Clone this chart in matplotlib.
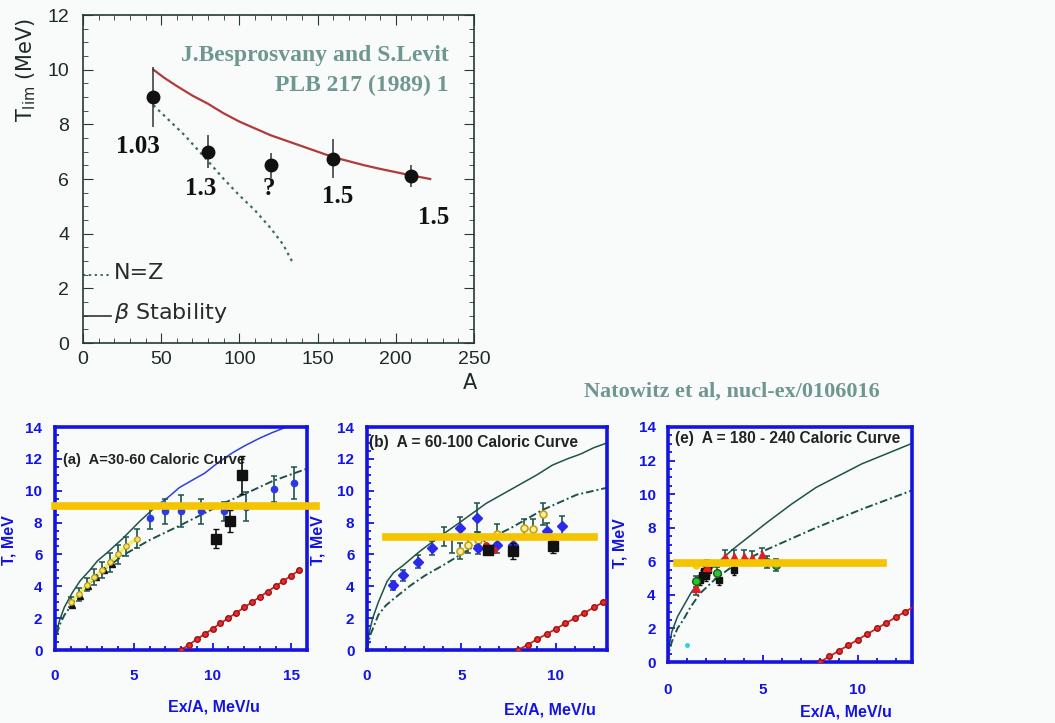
import matplotlib.pyplot as plt
from matplotlib.ticker import MultipleLocator

W, H = 1055, 723

# ---- top panel: limiting temperature vs A ----
A_pts = [45, 80, 120, 160, 210]
T_pts = [9.0, 7.0, 6.5, 6.75, 6.1]
T_err = [1.1, 0.6, 0.45, 0.7, 0.4]
pt_labels = ["1.03", "1.3", "?", "1.5", "1.5"]

A_beta = [45, 52, 60, 70, 80, 90, 100, 110, 120, 130, 140, 150, 160, 170, 180, 190, 200, 210, 222]
T_beta = [10.0, 9.7, 9.4, 9.05, 8.75, 8.4, 8.1, 7.85, 7.6, 7.4, 7.2, 7.0, 6.8, 6.65, 6.5, 6.37, 6.25, 6.13, 6.0]
A_nz = [45, 55, 65, 80, 90, 100, 110, 120, 128, 134]
T_nz = [8.7, 8.15, 7.6, 6.65, 6.0, 5.4, 4.85, 4.2, 3.6, 2.95]

# ---- panel (a) A=30-60 ----
a_fg_x = [0, 0.05, 0.15, 0.3, 0.6, 1.1, 1.6, 2.2, 2.7, 3.3, 4.3, 5.4, 6.4]
a_fg_y = [0, 0.8, 1.35, 1.9, 2.7, 3.6, 4.35, 5.0, 5.6, 6.1, 7.0, 8.1, 9.0]
a_fg2_x = [6.4, 7.2, 7.9, 8.7, 9.5, 10.4, 11.3, 12.1, 13.0, 13.8, 14.7]
a_fg2_y = [9.0, 9.6, 10.2, 10.65, 11.1, 11.8, 12.4, 12.85, 13.3, 13.65, 14.0]
a_dash_x = [0, 0.05, 0.15, 0.3, 0.6, 1.1, 1.6, 2.2, 2.7, 3.3, 4.5, 6.0, 7.9, 9.5, 10.9, 12.5, 13.8, 15.2, 15.9]
a_dash_y = [0, 0.65, 1.1, 1.6, 2.2, 2.9, 3.6, 4.2, 4.7, 5.2, 6.05, 6.9, 7.8, 8.6, 9.3, 10.0, 10.6, 11.1, 11.35]
a_yel_x = [1.0, 1.5, 2.0, 2.5, 3.0, 3.5, 4.0, 4.5, 5.2]
a_yel_y = [3.0, 3.5, 4.1, 4.6, 5.0, 5.5, 6.0, 6.5, 7.0]
a_yel_e = [0.3, 0.4, 0.4, 0.5, 0.5, 0.6, 0.6, 0.6, 0.6]
a_tri_x = [1.1, 1.6, 2.1, 2.6, 3.1, 3.6]
a_tri_y = [2.8, 3.4, 4.0, 4.6, 5.0, 5.4]
a_blue_x = [6.0, 7.0, 8.0, 9.3, 10.7, 12.1, 13.9, 15.2]
a_blue_y = [8.3, 8.7, 8.7, 8.7, 8.7, 9.0, 10.1, 10.5]
a_blue_e = [0.7, 0.8, 1.0, 0.8, 0.6, 0.9, 0.8, 1.0]
a_sq_x = [10.2, 11.1, 11.85]
a_sq_y = [7.0, 8.1, 11.0]
a_sq_e = [0.6, 0.7, 1.2]
a_red_x = [8.0, 8.5, 9.0, 9.5, 10.0, 10.5, 11.0, 11.5, 12.0, 12.5, 13.0, 13.5, 14.0, 14.5, 15.0, 15.5]
a_red_y = [0, 0.33, 0.67, 1.0, 1.33, 1.67, 2.0, 2.33, 2.67, 3.0, 3.33, 3.67, 4.0, 4.33, 4.67, 5.0]
a_plateau = 9.05

# ---- panel (b) A=60-100 ----
b_fg_x = [0, 0.1, 0.3, 0.6, 1.06, 1.4, 1.9, 2.8, 3.7, 4.9, 6.3, 7.2, 8.1, 9.0, 9.8, 10.6, 11.3, 12.0, 12.7]
b_fg_y = [0, 1.0, 2.0, 3.0, 4.3, 4.85, 5.3, 6.2, 7.0, 8.0, 9.2, 9.8, 10.4, 11.0, 11.6, 12.0, 12.3, 12.7, 13.0]
b_dash_x = [0, 0.16, 0.6, 1.0, 1.4, 2.3, 3.1, 4.0, 5.8, 7.6, 9.3, 11.1, 12.75]
b_dash_y = [0, 0.9, 2.2, 2.8, 3.2, 4.05, 4.7, 5.3, 6.6, 7.65, 8.8, 9.75, 10.2]
b_blue_x = [1.4, 1.9, 2.7, 3.45, 4.9, 5.8, 5.9, 6.9, 7.7, 9.5, 10.3]
b_blue_y = [4.05, 4.7, 5.55, 6.4, 7.65, 8.3, 6.4, 6.6, 6.6, 7.5, 7.8]
b_blue_e = [0.3, 0.35, 0.4, 0.45, 0.7, 0.9, 0.4, 0.5, 0.5, 0.5, 0.6]
b_yel_x = [4.9, 5.35, 5.9, 6.9, 8.3, 8.8, 9.3]
b_yel_y = [6.2, 6.6, 6.9, 7.3, 7.65, 7.6, 8.55]
b_yel_e = [0.5, 0.5, 0.5, 0.6, 0.6, 0.6, 0.7]
b_sq_x = [6.4, 7.7, 9.85]
b_sq_y = [6.3, 6.2, 6.5]
b_sq_e = [0.3, 0.5, 0.4]
b_bar_x = [4.1, 4.5]
b_bar_y = [7.1, 6.6]
b_bar_e = [0.6, 0.5]
b_rd_x = [6.3, 6.7]
b_rd_y = [6.6, 6.3]
b_red_x = [8.0, 8.5, 9.0, 9.5, 10.0, 10.5, 11.0, 11.5, 12.0, 12.5, 13.0]
b_red_y = [0, 0.33, 0.67, 1.0, 1.33, 1.67, 2.0, 2.33, 2.67, 3.0, 3.33]
b_plateau = 7.1

# ---- panel (e) A=180-240 ----
c_fg_x = [0, 0.05, 0.2, 0.5, 0.8, 1.2, 1.7, 2.5, 3.4, 4.3, 5.2, 6.5, 7.8, 9.0, 10.2, 11.5, 12.8]
c_fg_y = [0, 0.9, 1.8, 2.7, 3.3, 4.1, 4.9, 5.8, 6.7, 7.5, 8.3, 9.4, 10.4, 11.1, 11.8, 12.4, 13.0]
c_dash_x = [0, 0.05, 0.2, 0.5, 0.8, 1.2, 1.7, 2.5, 3.4, 4.3, 5.2, 6.5, 7.8, 9.0, 10.2, 11.5, 12.8]
c_dash_y = [0, 0.6, 1.2, 2.0, 2.5, 3.3, 4.1, 4.95, 5.7, 6.2, 6.7, 7.35, 8.0, 8.55, 9.1, 9.65, 10.2]
c_tri_x = [1.5, 2.05, 3.0, 3.5, 4.0, 4.4, 4.95]
c_tri_y = [4.4, 5.65, 6.25, 6.25, 6.25, 6.2, 6.4]
c_grn_x = [1.5, 2.6, 5.2, 5.7]
c_grn_y = [4.8, 5.3, 5.95, 5.8]
c_sq_x = [1.7, 1.8, 1.9, 2.0, 2.1, 2.7, 3.5]
c_sq_y = [4.9, 5.2, 5.4, 5.1, 5.5, 4.9, 5.5]
c_yel_x = [1.5]
c_yel_y = [5.8]
c_red_x = [8.0, 8.5, 9.0, 9.5, 10.0, 10.5, 11.0, 11.5, 12.0, 12.5, 13.0]
c_red_y = [0, 0.33, 0.67, 1.0, 1.33, 1.67, 2.0, 2.33, 2.67, 3.0, 3.33]
c_plateau = 5.9

BG = '#f8fbfa'
DARK = '#233b37'
TEAL = '#1e524b'
BLUE = '#1414e0'
GOLD = '#f5c400'
GREYTXT = '#6f9791'

fig = plt.figure(figsize=(W / 100, H / 100), dpi=100, facecolor=BG)


def box(l, t, r, b):
    return [l / W, 1 - b / H, (r - l) / W, (b - t) / H]


def ftext(x, y, s, **kw):
    fig.text(x / W, 1 - y / H, s, **kw)


# ================= top panel =================
ax0 = fig.add_axes(box(83, 15, 474, 343))
ax0.set_facecolor(BG)
ax0.set_xlim(0, 250)
ax0.set_ylim(0, 12)
for s in ax0.spines.values():
    s.set_color(DARK)
    s.set_linewidth(1.2)
ax0.xaxis.set_major_locator(MultipleLocator(50))
ax0.xaxis.set_minor_locator(MultipleLocator(10))
ax0.yaxis.set_major_locator(MultipleLocator(2))
ax0.yaxis.set_minor_locator(MultipleLocator(0.5))
ax0.tick_params(which='both', direction='in', top=True, right=True, color=DARK)
ax0.tick_params(which='major', length=7, labelsize=14, labelcolor='#1c2a28')
ax0.tick_params(which='minor', length=3.5)
ax0.tick_params(axis='y', pad=10)
ax0.tick_params(axis='x', pad=6)
for lab in ax0.get_xticklabels() + ax0.get_yticklabels():
    lab.set_fontfamily('Liberation Sans')

ax0.plot(A_beta, T_beta, color='#b23a3a', lw=1.6)
ax0.plot(A_nz, T_nz, color='#3d6c68', lw=1.6, ls=(0, (1.2, 1.8)))
ax0.errorbar(A_pts, T_pts, yerr=T_err, fmt='o', ms=9, color='#111111',
             ecolor='#333333', elinewidth=1.1, capsize=0)

lab_dx = [-10, -5, -1, 3, 14]
lab_dy = [-1.8, -1.35, -0.85, -1.4, -1.5]
for a, t, s, dx, dy in zip(A_pts, T_pts, pt_labels, lab_dx, lab_dy):
    ax0.text(a + dx, t + dy, s, ha='center', va='center', fontsize=18,
             fontweight='bold', family='Liberation Serif', color='#111111')

ax0.plot([0, 18], [2.5, 2.5], color='#3d6c68', lw=1.4, ls=(0, (1.2, 1.8)), clip_on=False)
ax0.plot([0, 18], [1.0, 1.0], color='#333333', lw=1.2)
ax0.text(20, 2.55, 'N=Z', fontsize=16, va='center', color='#2a2a2a')
ax0.text(20, 1.1, r'$\beta$ Stability', fontsize=16, va='center', color='#2a2a2a')

ax0.text(0.935, 0.875, 'J.Besprosvany and S.Levit', transform=ax0.transAxes,
         ha='right', va='center', fontsize=17, fontweight='bold',
         family='Liberation Serif', color=GREYTXT)
ax0.text(0.935, 0.785, 'PLB 217 (1989) 1', transform=ax0.transAxes,
         ha='right', va='center', fontsize=17, fontweight='bold',
         family='Liberation Serif', color=GREYTXT)

ftext(26, 70, r'T$_{\rm lim}$ (MeV)', rotation=90, ha='center', va='center',
      fontsize=15, color='#1c2a28')
ftext(470, 383, 'A', ha='center', va='center', fontsize=15, color='#1c2a28')

ftext(732, 392, 'Natowitz et al, nucl-ex/0106016', ha='center', va='center',
      fontsize=16, fontweight='bold', family='Liberation Serif', color=GREYTXT)


# ================= bottom panels =================
def caloric_axes(rect, xmax, xpad):
    ax = fig.add_axes(rect)
    ax.set_facecolor(BG)
    ax.set_xlim(0, xmax)
    ax.set_ylim(0, 14)
    for s in ax.spines.values():
        s.set_color(BLUE)
        s.set_linewidth(2.6)
    ax.xaxis.set_major_locator(MultipleLocator(5))
    ax.xaxis.set_minor_locator(MultipleLocator(1))
    ax.yaxis.set_major_locator(MultipleLocator(2))
    ax.yaxis.set_minor_locator(MultipleLocator(0.5))
    ax.tick_params(which='both', direction='in', color=BLUE, width=1.3)
    ax.tick_params(which='major', length=5, labelsize=11, labelcolor=BLUE)
    ax.tick_params(which='minor', length=3)
    ax.tick_params(axis='y', pad=9)
    ax.tick_params(axis='x', pad=xpad)
    for lab in ax.get_xticklabels() + ax.get_yticklabels():
        lab.set_fontfamily('Liberation Sans')
        lab.set_fontweight('bold')
    return ax


def red_line(ax, x, y):
    ax.plot(x, y, color='#d42020', lw=1.3, marker='o', ms=4,
            mfc='#e03030', mec='#a01010', zorder=3)


eb = dict(ecolor=TEAL, elinewidth=1.2, capsize=2.2, capthick=1.1, ls='none')
dashdot = (0, (4, 1.5, 1, 1.5))

# panel (a)
axa = caloric_axes(box(55, 427, 307, 650), 16, 14)
axa.plot(a_fg_x, a_fg_y, color=TEAL, lw=1.1)
axa.plot(a_fg2_x, a_fg2_y, color='#2a3fe0', lw=1.1)
axa.plot(a_dash_x, a_dash_y, color=TEAL, lw=1.4, ls=dashdot)
axa.plot(a_yel_x, a_yel_y, color='#f0f060', lw=2.5, zorder=2)
axa.errorbar(a_yel_x, a_yel_y, yerr=a_yel_e, **eb)
axa.plot(a_yel_x, a_yel_y, 'o', ms=4, mfc='#f4e25a', mec='#b09020', mew=0.8, zorder=4)
axa.plot(a_tri_x, a_tri_y, '^', ms=5, color='#111111', zorder=3)
axa.errorbar(a_blue_x, a_blue_y, yerr=a_blue_e, **eb)
axa.plot(a_blue_x, a_blue_y, 'o', ms=4.5, color='#2a3ae8', zorder=4)
axa.errorbar(a_sq_x, a_sq_y, yerr=a_sq_e, fmt='s', ms=7, color='#111111',
             ecolor='#111111', elinewidth=1.2, capsize=2.2, zorder=5)
red_line(axa, a_red_x, a_red_y)
axa.plot([0, 16.6], [a_plateau, a_plateau], color=GOLD, lw=5.5, clip_on=False, zorder=6)
axa.text(0.5, 11.95, '(a)  A=30-60 Caloric Curve', fontsize=10.5, fontweight='bold',
         family='Liberation Sans', color='#222222', va='center')

# panel (b)
axb = caloric_axes(box(367, 427, 607, 650), 12.7, 14)
axb.plot(b_fg_x, b_fg_y, color=TEAL, lw=1.1)
axb.plot(b_dash_x, b_dash_y, color=TEAL, lw=1.4, ls=dashdot)
axb.errorbar(b_bar_x, b_bar_y, yerr=b_bar_e, **eb)
axb.errorbar(b_yel_x, b_yel_y, yerr=b_yel_e, **eb)
axb.plot(b_yel_x, b_yel_y, 'o', ms=5, mfc='#f6f0a0', mec='#c8a010', mew=1.2, zorder=4)
axb.errorbar(b_blue_x, b_blue_y, yerr=b_blue_e, **eb)
axb.plot(b_blue_x, b_blue_y, 'D', ms=5.5, color='#2a2ae8', zorder=4)
axb.errorbar(b_sq_x, b_sq_y, yerr=b_sq_e, fmt='s', ms=7, color='#111111',
             ecolor='#111111', elinewidth=1.2, capsize=2.2, zorder=5)
axb.plot(b_rd_x, b_rd_y, 'o', ms=4, color='#d42020', zorder=5)
red_line(axb, b_red_x, b_red_y)
axb.plot([1.0, 12.0], [b_plateau, b_plateau], color=GOLD, lw=5.5, zorder=6)
axb.text(0.1, 13.0, '(b)  A = 60-100 Caloric Curve', fontsize=11.2, fontweight='bold',
         family='Liberation Sans', color='#222222', va='center')

# panel (e)
axc = caloric_axes(box(668, 427, 912, 662), 12.85, 15)
axc.plot(c_fg_x, c_fg_y, color=TEAL, lw=1.1)
axc.plot(c_dash_x, c_dash_y, color=TEAL, lw=1.4, ls=dashdot)
axc.errorbar(c_tri_x, c_tri_y, yerr=0.4, **eb)
axc.errorbar(c_grn_x, c_grn_y, yerr=0.35, **eb)
axc.errorbar(c_sq_x, c_sq_y, yerr=0.3, fmt='s', ms=5, color='#111111',
             ecolor='#111111', elinewidth=1.0, capsize=1.5, zorder=4)
axc.plot(c_tri_x, c_tri_y, '^', ms=6, color='#e02020', zorder=5)
axc.plot(c_grn_x, c_grn_y, 'o', ms=5.5, mfc='#30c030', mec='#106010', zorder=5)
axc.plot(c_yel_x, c_yel_y, 'o', ms=5, color='#f0d020', zorder=5)
axc.plot([1.0], [1.0], 'o', ms=2.5, color='#30d0e0')
red_line(axc, c_red_x, c_red_y)
axc.plot([0.45, 11.3], [c_plateau, c_plateau], color=GOLD, lw=5.5, zorder=6)
axc.text(0.35, 13.3, '(e)  A = 180 - 240 Caloric Curve', fontsize=11.2, fontweight='bold',
         family='Liberation Sans', color='#222222', va='center')

# axis titles of the bottom row
lab_kw = dict(fontsize=11.5, fontweight='bold', family='Liberation Sans', color=BLUE,
              ha='center', va='center')
ftext(9, 540, 'T, MeV', rotation=90, **lab_kw)
ftext(318, 540, 'T, MeV', rotation=90, **lab_kw)
ftext(620, 543, 'T, MeV', rotation=90, **lab_kw)
ftext(214, 707, 'Ex/A, MeV/u', **lab_kw)
ftext(550, 710, 'Ex/A, MeV/u', **lab_kw)
ftext(846, 712, 'Ex/A, MeV/u', **lab_kw)

fig.savefig('out.png', dpi=100, facecolor=BG)
